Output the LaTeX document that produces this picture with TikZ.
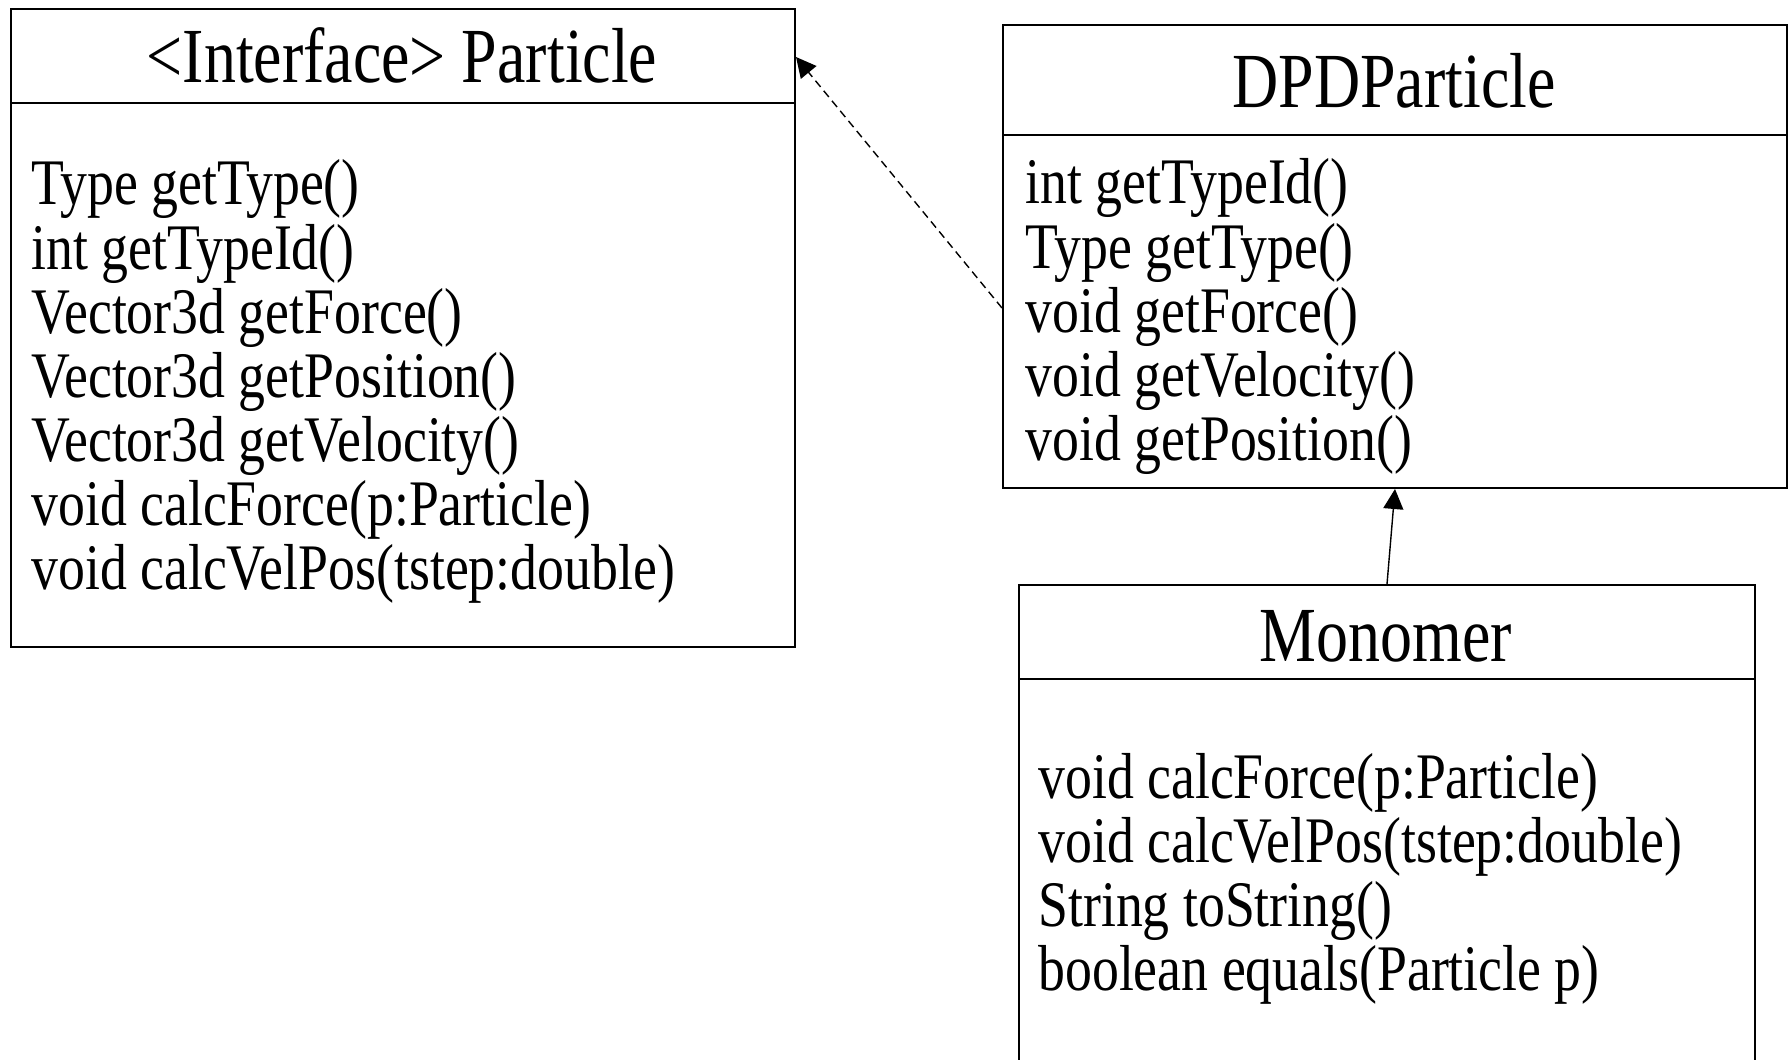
\documentclass[tikz,border=0pt]{standalone}
\usepackage{fontspec}
\setmainfont{Liberation Serif}[FakeStretch=0.82]
\newfontfamily\memberfont{Liberation Serif}[FakeStretch=0.827]
\usetikzlibrary{arrows.meta}

\tikzset{
  classbox/.style={draw, line width=1pt, inner sep=0pt, anchor=north west},
  divider/.style={line width=1pt},
  classname/.style={anchor=base, inner sep=0pt, font=\fontsize{39}{39}\selectfont},
  member/.style={anchor=base west, inner sep=0pt, font=\memberfont\fontsize{32.5}{32.5}\selectfont},
  realizes/.style={line width=0.7pt, dash pattern=on 4pt off 2.5pt,
    -{Triangle[length=10pt,width=10pt]}},
  inherits/.style={line width=0.7pt, -{Triangle[length=10pt,width=10pt]}}
}

\begin{document}
\begin{tikzpicture}[x=0.5pt, y=-0.5pt]
\useasboundingbox (0,0) rectangle (1791,1059);
\clip (0,0) rectangle (1791,1059);

% interface Particle
\node[classbox, minimum width=392pt, minimum height=319pt] (particle) at (10,8) {};
\draw[divider] ([yshift=-47.5pt]particle.north west) -- ([yshift=-47.5pt]particle.north east);
\node[classname] (particleName) at (402,83) {<Interface> Particle};
\foreach \txt [count=\i] in {{Type getType()}, {int getTypeId()}, {Vector3d getForce()},
    {Vector3d getPosition()}, {Vector3d getVelocity()}, {void calcForce(p:Particle)},
    {void calcVelPos(tstep:double)}}
  \node[member] (pm\i) at (31, {205+64*(\i-1)}) {\txt};

% class DPDParticle
\node[classbox, minimum width=392pt, minimum height=231.5pt] (dpd) at (1002,24) {};
\draw[divider] ([yshift=-55.5pt]dpd.north west) -- ([yshift=-55.5pt]dpd.north east);
\node[classname] (dpdName) at (1394,108) {DPDParticle};
\foreach \txt [count=\i] in {{int getTypeId()}, {Type getType()}, {void getForce()},
    {void getVelocity()}, {void getPosition()}}
  \node[member] (dm\i) at (1025, {204+64*(\i-1)}) {\txt};

% class Monomer (runs past the lower edge)
\node[classbox, minimum width=368pt, minimum height=260pt] (mono) at (1018,584) {};
\draw[divider] ([yshift=-47.5pt]mono.north west) -- ([yshift=-47.5pt]mono.north east);
\node[classname] (monoName) at (1386,661) {Monomer};
\foreach \txt [count=\i] in {{void calcForce(p:Particle)}, {void calcVelPos(tstep:double)},
    {String toString()}, {boolean equals(Particle p)}}
  \node[member] (mm\i) at (1038, {798+64*(\i-1)}) {\txt};

% relations
\draw[realizes] ([yshift=-25.75pt]dpd.west) -- ([yshift=135.5pt]particle.east);
\draw[inherits] (mono.north) -- (dpd.south);
\end{tikzpicture}
\end{document}
